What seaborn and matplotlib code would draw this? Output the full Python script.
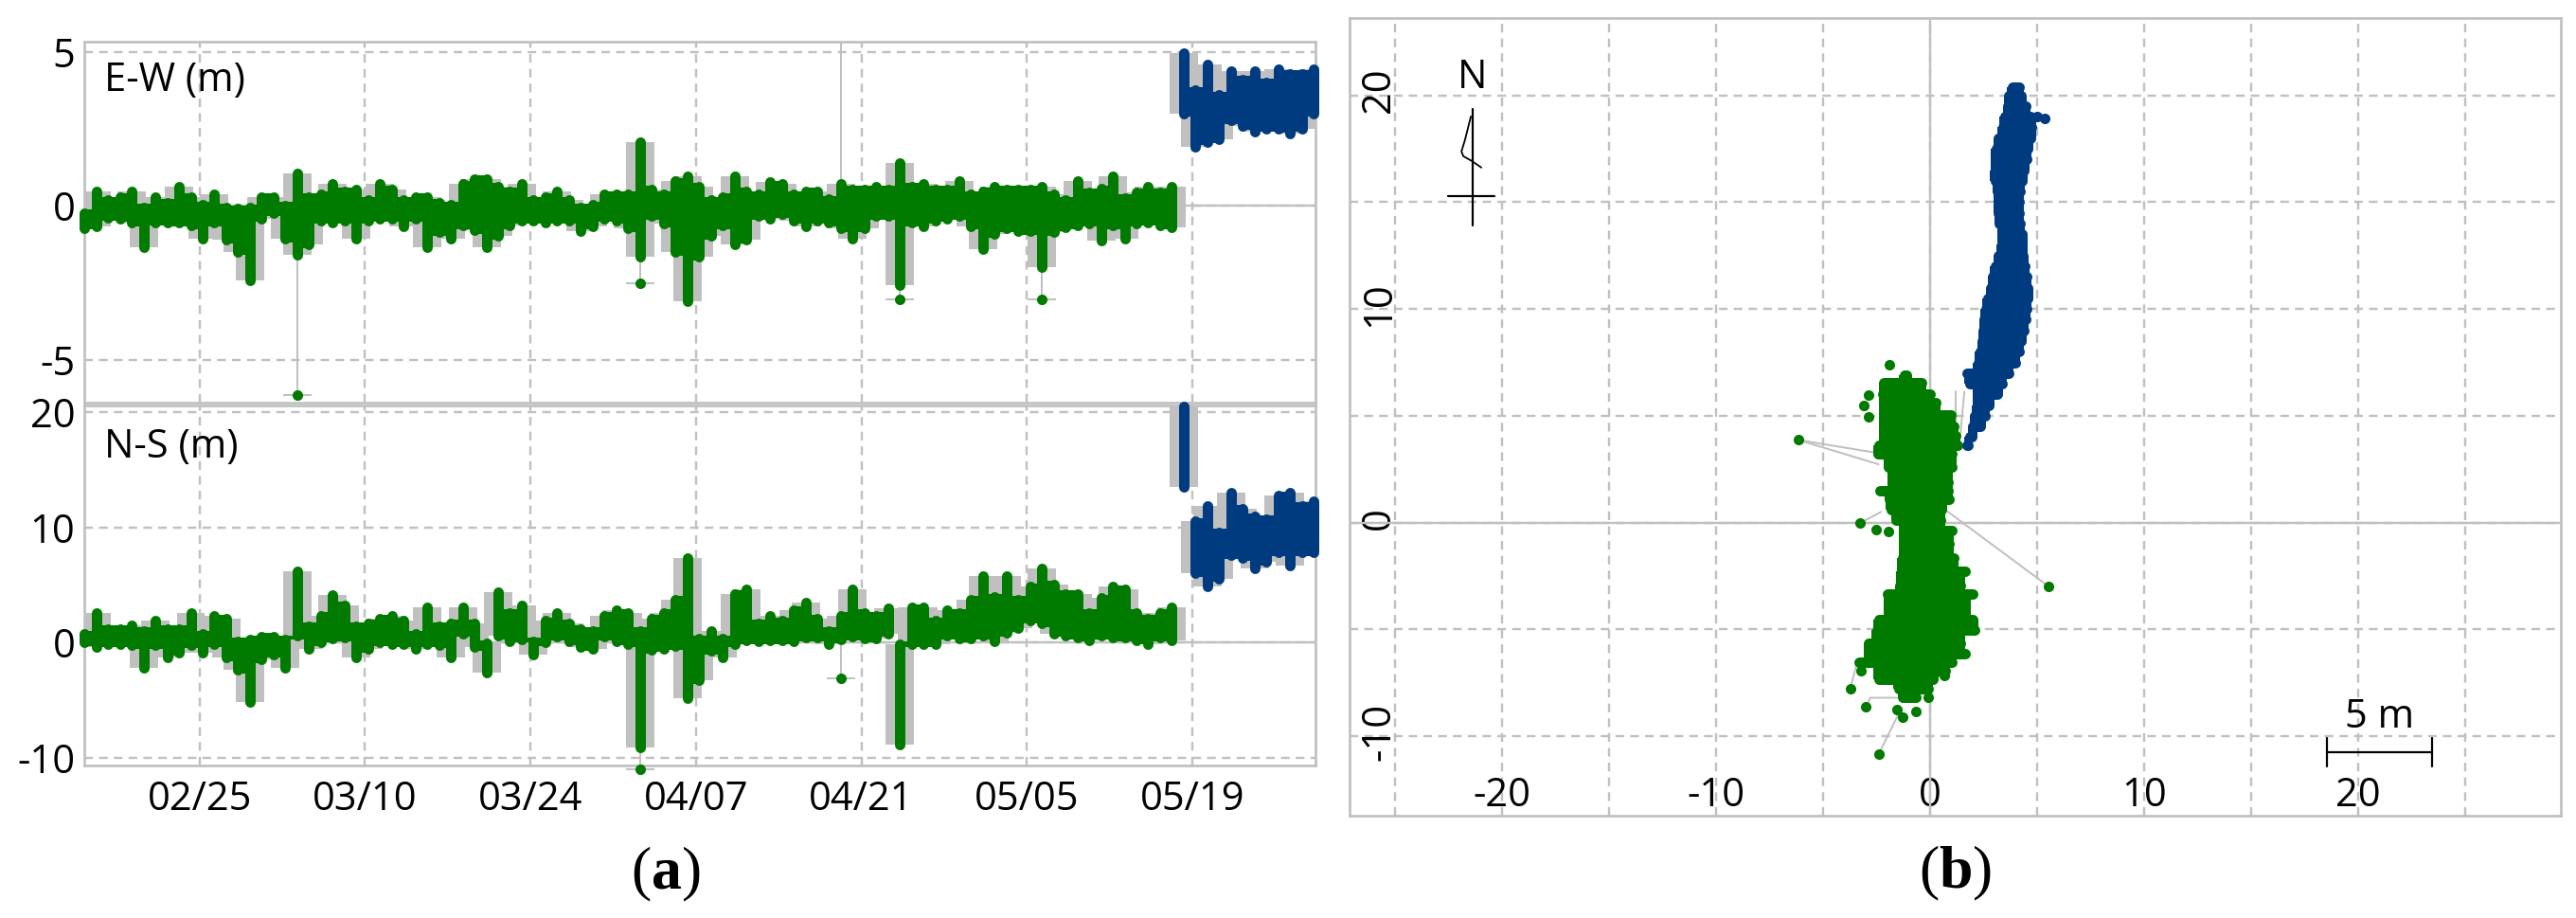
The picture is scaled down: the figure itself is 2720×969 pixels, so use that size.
import numpy as np
import pandas as pd
import matplotlib
matplotlib.use("Agg")
import matplotlib.pyplot as plt
import matplotlib.dates as mdates
from matplotlib.transforms import ScaledTranslation
import seaborn as sns

sns.set_theme(style="white")
plt.rcParams.update({
    "font.family": ["Open Sans", "DejaVu Sans"],
    "axes.unicode_minus": False,
    "mathtext.fontset": "custom",
    "mathtext.rm": "Liberation Serif",
    "mathtext.bf": "Liberation Serif:bold",
})

# one sample per day, daily extent of the coordinate time series (metres)
first_day = "2016-02-15 06:30"
green_days = 93
blue_days = 12

ew_green_high = [-.23, .47, .18, .29, .47, -.04, .29, .11, .63, .29, .03, .37, -.04, -.09, -.06, .29, .29, .01, 1.06, .29,
                 .37, .71, .47, .54, .18, .71, .54, .18, .29, .29, .11, .03, .71, .88, .88, .63, .47, .71, .18, .29,
                 .47, .18, -.04, .03, .37, .37, .37, 2.06, .54, .37, .80, .96, .63, .18, .29, .96, .47, .37, .78, .71,
                 .37, .47, .47, .22, .71, .54, .54, .63, .54, 1.39, .63, .71, .54, .54, .80, .37, .47, .63, .54, .54,
                 .54, .63, .37, .19, .80, .45, .55, .95, .27, .45, .63, .45, .63]
ew_green_low = [-.74, -.66, -.38, -.41, -.55, -1.33, -.53, -.55, -.55, -.64, -1.08, -.55, -1.10, -1.49, -2.43, -.41, -.23, -1.08, -1.58, -1.25,
                -.48, -.55, -.48, -1.08, -.48, -.41, -.41, -.66, -.41, -1.33, -.86, -1.08, -.64, -.79, -1.33, -.99, -.64, -.48, -.48, -.55,
                -.48, -.48, -.82, -.66, -.41, -.48, -.74, -1.66, -.33, -.58, -1.51, -3.10, -1.66, -.99, -.64, -1.25, -1.10, -.33, -.41, -.28,
                -.48, -.66, -.48, -.55, -.74, -1.08, -.74, -.33, -.33, -2.58, -.55, -.66, -.48, -.41, -.33, -.66, -1.41, -.92, -.74, -.82,
                -.82, -1.99, -.86, -.71, -.64, -.56, -1.13, -.64, -1.07, -.56, -.53, -.64, -.71]
ew_blue_high = [4.95, 3.75, 4.6, 3.6, 4.37, 4.11, 4.37, 4.01, 4.45, 4.29, 4.29, 4.45]
ew_blue_low = [3.0, 1.91, 2.08, 2.15, 2.77, 2.59, 2.42, 2.51, 2.5, 2.34, 2.51, 3.0]
ew_outlier_day = [18, 47, 69, 81]
ew_outlier_value = [-6.15, -2.51, -3.03, -3.03]
ew_offscale_day = [64]
ew_offscale_value = [9.0]

ns_green_high = [.74, 2.58, 1.21, 1.21, 1.48, 1.01, 1.89, 1.21, 1.21, 2.58, .74, 2.33, 2.11, .11, .30, .52, .52, .30, 6.19, 1.45,
                 2.33, 4.16, 3.26, 1.45, 1.67, 2.11, 2.33, 1.89, .74, 3.04, 1.45, 1.67, 3.04, 1.67, -.08, 4.41, 2.58, 3.26, .11, 1.89,
                 2.58, 1.67, 1.21, 1.01, 2.33, 2.82, 2.58, 1.01, 2.11, 2.58, 3.73, 7.32, .33, 1.01, .33, 4.22, 4.63, 1.67, 2.33, 1.89,
                 2.82, 3.48, 2.11, 1.01, 2.33, 4.63, 2.58, 2.33, 2.99, -.16, 3.04, 3.04, 1.89, 2.82, 2.58, 3.73, 5.78, 3.95, 5.78, 3.73,
                 4.85, 6.47, 5.04, 4.22, 4.22, 2.58, 3.86, 4.85, 4.63, 2.58, 2.11, 2.58, 3.04]
ns_green_low = [.03, -.38, -.11, -.11, -.25, -2.16, -.25, -1.29, -.85, -.19, -.85, -.11, -1.29, -2.38, -5.12, -1.48, -1.01, -2.16, .58, -.58,
                .03, .36, .44, -1.29, -.58, .03, -.11, -.11, -.58, -.11, -.19, -1.29, .79, -.38, -2.63, .58, .08, .30, -1.07, .03,
                .52, .08, -.38, -.58, .52, .08, -.11, -9.12, -.66, -.52, -.30, -4.85, -3.26, -.74, -1.29, -.11, .16, .08, .16, .16,
                .08, .44, .44, -.11, .25, .52, .36, .36, .79, -8.87, -.11, -.11, -.11, .58, .36, .36, .58, .08, .85, 1.26,
                1.95, 1.67, .79, .58, .44, .16, .58, .44, .44, .16, -.11, .44, .16]
ns_blue_high = [20.5, 10.52, 11.89, 9.56, 13.04, 11.62, 10.93, 10.71, 12.79, 13.04, 11.89, 12.3]
ns_blue_low = [13.5, 6.0, 4.9, 5.56, 7.56, 7.37, 6.47, 7.0, 7.84, 6.66, 7.84, 7.84]
ns_outlier_day = [47, 64]
ns_outlier_value = [-10.94, -3.07]

date_ticks = ["2016-02-25", "2016-03-10", "2016-03-24", "2016-04-07", "2016-04-21", "2016-05-05", "2016-05-19"]
ew_ticks = [5, 0, -5]
ns_ticks = [20, 10, 0, -10]

# plan view: extent of the point cloud per northing row, then the lone points
green_row_north = [6.9, 6.55, 6.0, 5.6, 5.05, 4.5, 4.05, 3.6, 3.2, 2.6, 1.9, 1.5, 1.1, .6, .13, -.35, -1.0, -1.64, -2.28, -2.93,
                   -3.33, -3.89, -4.54, -5.02, -5.66, -6.15, -6.55, -6.95, -7.35, -7.76, -8.16]
green_row_west = [-1.2, -2.15, -2.2, -2.15, -2.15, -2.15, -2.15, -2.4, -2.42, -1.95, -1.75, -2.35, -1.9, -1.82, -1.58, -1.24, -1.24, -1.3, -1.35, -1.42,
                  -1.98, -1.93, -2.4, -2.5, -2.9, -2.86, -3.32, -2.4, -2.4, -1.47, -1.28]
green_row_east = [-1.1, -.42, 0.0, .26, .95, 1.1, 1.18, 1.28, 1.0, 1.0, .83, .83, .88, .55, .48, 1.0, .88, 1.1, 1.64, 1.4,
                  1.99, 1.64, 2.0, 2.1, 1.4, 1.64, 1.0, .7, .14, -.1, -.68]
blue_row_north = [20.4, 20.0, 19.5, 19.0, 18.5, 18.0, 17.5, 17.0, 16.5, 16.0, 15.5, 15.0, 14.5, 14.0, 13.5, 13.0, 12.5, 12.0,
                  11.5, 11.0, 10.5, 10.0, 9.5, 9.0, 8.5, 8.0, 7.5, 7.0, 6.5, 6.0, 5.5, 5.0, 4.5, 4.0, 3.6]
blue_row_west = [3.84, 3.69, 3.64, 3.49, 3.39, 3.19, 3.09, 3.09, 3.04, 3.04, 3.15, 3.2, 3.2, 3.25, 3.4, 3.34, 3.19, 3.04,
                 2.94, 2.84, 2.69, 2.59, 2.54, 2.49, 2.44, 2.34, 2.24, 1.74, 1.84, 2.24, 2.19, 2.09, 1.99, 1.84, 1.74]
blue_row_east = [4.16, 4.26, 4.46, 4.7, 4.75, 4.7, 4.56, 4.5, 4.4, 4.3, 4.2, 4.15, 4.15, 4.2, 4.3, 4.3, 4.35, 4.41,
                 4.51, 4.56, 4.56, 4.51, 4.46, 4.36, 4.26, 4.16, 3.96, 3.66, 3.36, 3.16, 2.76, 2.56, 2.36, 1.96, 1.76]
lone_east = [-3.28, -2.52, -1.94, 5.54, -3.74, -3.0, -1.55, -1.29, -.67, -.09, -2.4, .65, -3.24, -6.17, -1.9, -2.89, -3.08, -2.89]
lone_north = [-.03, -.31, -.43, -2.99, -7.79, -8.64, -8.75, -9.12, -8.85, -8.16, -10.83, -7.14, -6.95, 3.87, 7.39, 5.99, 5.47, 4.95]
lone_blue_east = [5.35, 5.0]
lone_blue_north = [18.9, 19.0]
jump_east = [[5.54, .8], [-6.17, -2.41], [-6.17, -2.41], [-2.4, -1.5], [-3.0, -2.8, -1.5], [-3.74, -3.4], [-3.28, -2.3], [1.21, 1.21], [1.6, 1.4]]
jump_north = [[-2.99, .53], [3.87, 3.25], [3.87, 2.73], [-10.83, -9.0], [-8.64, -8.2, -8.2], [-7.79, -6.5], [-.03, .5], [6.13, 4.07], [6.13, 4.0]]

plan_ticks = [-25, -20, -15, -10, -5, 0, 5, 10, 15, 20, 25]
plan_east_labels = ["", "-20", "", "-10", "", "0", "", "10", "", "20", ""]
plan_north_ticks = [20, 15, 10, 5, 0, -5, -10]
plan_north_labels = ["20", "", "10", "", "0", "", "-10"]

GREEN = "#007b00"
BLUE = "#003b7f"
GREY = "#c0c0c0"
PX = 72 / 100  # points per pixel at dpi 100
W, H = 2720, 969
palette = {"before": GREEN, "after": BLUE}


def box(left, top, right, bottom):
    return [left / W, 1 - bottom / H, (right - left) / W, (bottom - top) / H]


def dress(ax):
    for s in ax.spines.values():
        s.set_color(GREY)
        s.set_linewidth(2.7 * PX)
    ax.set_axisbelow(True)
    ax.grid(True, color=GREY, linewidth=2.4 * PX, linestyle=(0, (3.8, 2.7)))


def draw_series(ax, high_g, low_g, high_b, low_b, out_day, out_val, radius, off_day=(), off_val=()):
    days = pd.date_range(first_day, periods=green_days + blue_days, freq="D")
    num = mdates.date2num(days)
    frames = []
    for site, high, low, start in [("before", high_g, low_g, 0), ("after", high_b, low_b, green_days)]:
        d = days[start:start + len(high)]
        frames.append(pd.DataFrame({"date": d, "value": high, "site": site, "day": range(start, start + len(high))}))
        frames.append(pd.DataFrame({"date": d, "value": low, "site": site, "day": range(start, start + len(high))}))
        n = num[start:start + len(high)]
        hi, lo = np.array(high), np.array(low)
        # grey horizontal whiskers of every sample
        ax.bar(n, hi - lo, bottom=lo, width=2.4, color=GREY, linewidth=0, zorder=2)
        # between two days the markers merge up to the lower of the two extents
        top = np.minimum(hi[:-1], hi[1:]) + radius
        bot = np.maximum(lo[:-1], lo[1:]) - radius
        col = GREEN if site == "before" else BLUE
        for k in range(len(top)):
            if top[k] > bot[k]:
                ax.fill_between(n[k:k + 2], bot[k], top[k], color=col, linewidth=0, zorder=3)
    data = pd.concat(frames)
    sns.lineplot(data=data, x="date", y="value", hue="site", units="day", estimator=None, palette=palette,
                 legend=False, linewidth=11 * PX, solid_capstyle="round", clip_on=False, zorder=4, ax=ax)
    for d, v in zip(off_day, off_val):
        ax.vlines(num[d], high_g[d], v, color=GREY, linewidth=2 * PX, zorder=1)
    if len(out_day):
        out_x = num[out_day]
        base = np.array(low_g)[out_day]
        ax.vlines(out_x, out_val, base, color=GREY, linewidth=2 * PX, zorder=2)
        ax.hlines(out_val, out_x - 1.2, out_x + 1.2, color=GREY, linewidth=2 * PX, zorder=2, clip_on=False)
        sns.scatterplot(x=days[out_day], y=out_val, color=GREEN, s=64, linewidth=0, clip_on=False, zorder=4, ax=ax)
    ax.axhline(0, color=GREY, linewidth=2.4 * PX, zorder=1)
    ax.set_xlim(mdates.date2num(pd.Timestamp("2016-02-15 06:10")), mdates.date2num(pd.Timestamp("2016-05-29 10:30")))
    ax.set_xticks(mdates.date2num(pd.to_datetime(date_ticks)))
    ax.xaxis.set_major_formatter(mdates.DateFormatter("%m/%d"))
    ax.set_xlabel("")
    ax.set_ylabel("")


fig = plt.figure(figsize=(W / 100, H / 100), dpi=100, facecolor="white")
ax_ew = fig.add_axes(box(89, 43.7, 1389.3, 424.7))
ax_ns = fig.add_axes(box(89, 427.6, 1389.3, 808))
ax_plan = fig.add_axes(box(1424.5, 19, 2704, 860.8))

for ax in (ax_ew, ax_ns, ax_plan):
    dress(ax)

draw_series(ax_ew, ew_green_high, ew_green_low, ew_blue_high, ew_blue_low, ew_outlier_day, ew_outlier_value, 0.11,
            ew_offscale_day, ew_offscale_value)
draw_series(ax_ns, ns_green_high, ns_green_low, ns_blue_high, ns_blue_low, ns_outlier_day, ns_outlier_value, 0.3)

ax_ew.set_ylim(-6.38, 5.34)
ax_ew.set_yticks(ew_ticks)
ax_ns.set_ylim(-10.65, 20.61)
ax_ns.set_yticks(ns_ticks)
ax_ew.tick_params(axis="x", labelbottom=False, length=0)
ax_ew.tick_params(axis="y", labelsize=30, length=0, pad=7, labelcolor="black")
ax_ns.tick_params(axis="y", labelsize=30, length=0, pad=7, labelcolor="black")
ax_ns.tick_params(axis="x", labelsize=30, length=0, pad=11, labelcolor="black")
ax_ew.text(0.016, 0.891, "E-W (m)", transform=ax_ew.transAxes, fontsize=30, va="center", color="black")
ax_ns.text(0.016, 0.884, "N-S (m)", transform=ax_ns.transAxes, fontsize=30, va="center", color="black")

# plan view
rows = []
for site, north, west, east in [("before", green_row_north, green_row_west, green_row_east),
                                ("after", blue_row_north, blue_row_west, blue_row_east)]:
    col = GREEN if site == "before" else BLUE
    for k in range(len(north)):
        rows.append({"site": site, "row": f"{site}{k}", "east": west[k], "north": north[k]})
        rows.append({"site": site, "row": f"{site}{k}", "east": east[k], "north": north[k]})
        if k + 1 < len(north):
            # merge neighbouring rows, the points overlap there
            w = max(west[k], west[k + 1]) - 0.24
            e = min(east[k], east[k + 1]) + 0.24
            if e > w:
                ax_plan.fill_betweenx([north[k], north[k + 1]], w, e, color=col, linewidth=0, zorder=3)
plan = pd.DataFrame(rows)

ax_plan.axhline(0, color=GREY, linewidth=2.4 * PX, zorder=1)
ax_plan.axvline(0, color=GREY, linewidth=2.4 * PX, zorder=1)
for xs, ys in zip(jump_east, jump_north):
    ax_plan.plot(xs, ys, color=GREY, linewidth=2 * PX, zorder=2)
sns.lineplot(data=plan, x="east", y="north", hue="site", units="row", estimator=None, sort=False, palette=palette,
             legend=False, linewidth=11 * PX, solid_capstyle="round", zorder=3, ax=ax_plan)
sns.scatterplot(x=lone_east, y=lone_north, color=GREEN, s=64, linewidth=0, zorder=4, ax=ax_plan)
sns.scatterplot(x=lone_blue_east, y=lone_blue_north, color=BLUE, s=64, linewidth=0, zorder=4, ax=ax_plan)
ax_plan.set_xlim(-27.15, 29.47)
ax_plan.set_ylim(-13.71, 23.62)
ax_plan.set_xticks(plan_ticks)
ax_plan.set_xticklabels(plan_east_labels)
ax_plan.set_yticks(plan_north_ticks)
ax_plan.set_yticklabels(plan_north_labels, rotation=90, va="center")
ax_plan.tick_params(axis="x", labelsize=30, length=0, pad=-30, labelcolor="black")
ax_plan.tick_params(axis="y", labelsize=30, length=0, pad=-38, labelcolor="black")
up = ScaledTranslation(0, 5 * PX / 72, fig.dpi_scale_trans)
for label in ax_plan.get_yticklabels():
    label.set_transform(label.get_transform() + up)
ax_plan.set_xlabel("")
ax_plan.set_ylabel("")

# north arrow and scale bar
ax_plan.plot([-21.37, -21.37], [19.37, 13.91], color="black", linewidth=2.2 * PX, zorder=5)
ax_plan.plot([-22.52, -20.35], [15.3, 15.3], color="black", linewidth=2.2 * PX, zorder=5)
ax_plan.plot([-21.46, -21.73, -21.9, -21.81, -21.42, -20.97], [19.01, 17.93, 17.37, 17.15, 16.93, 16.62],
             color="black", linewidth=1.8 * PX, zorder=5)
ax_plan.text(-21.4, 20.84, "N", fontsize=30, ha="center", va="center", color="black")
ax_plan.plot([18.56, 23.45], [-10.73, -10.73], color="black", linewidth=2.2 * PX, zorder=5)
ax_plan.plot([18.56, 18.56], [-10.07, -11.4], color="black", linewidth=2.2 * PX, zorder=5)
ax_plan.plot([23.45, 23.45], [-10.07, -11.4], color="black", linewidth=2.2 * PX, zorder=5)
ax_plan.text(21.0, -9.1, "5 m", fontsize=30, ha="center", va="center", color="black")

fig.text(703 / W, 1 - 922 / H, r"$(\mathbf{a})$", fontsize=46, ha="center", va="center", color="black")
fig.text(2065 / W, 1 - 921 / H, r"$(\mathbf{b})$", fontsize=46, ha="center", va="center", color="black")

fig.savefig("out.png", dpi=100, facecolor="white")
